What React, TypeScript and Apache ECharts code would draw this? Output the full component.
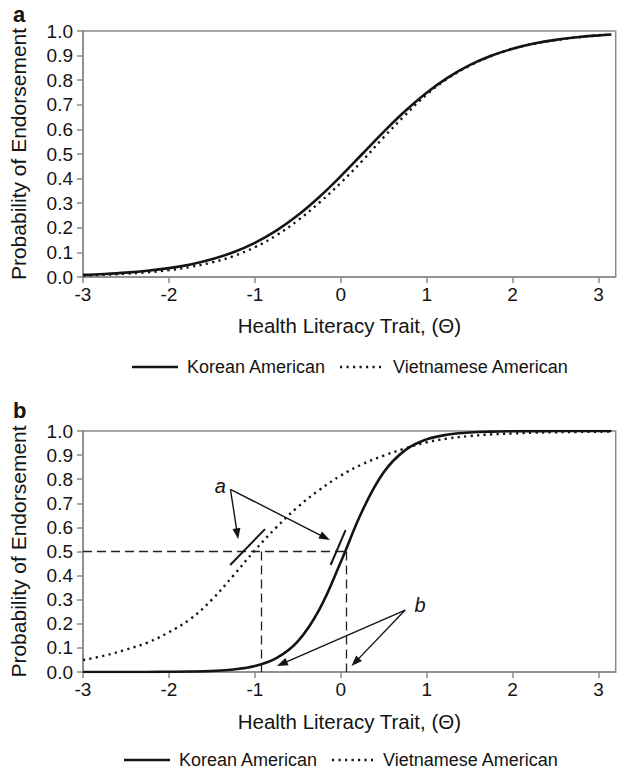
import React, { useEffect, useRef } from "react";
import * as echarts from "echarts";

const FONT = '"Liberation Sans", Arial, Helvetica, sans-serif';
const INK = "#141414";
const AXIS = "#8a8a8a";

// Theta grid (Health Literacy Trait)
const theta = [-3, -2.75, -2.5, -2.25, -2, -1.75, -1.5, -1.25, -1, -0.75, -0.5, -0.25, 0, 0.25, 0.5, 0.75, 1, 1.25, 1.5, 1.75, 2, 2.25, 2.5, 2.75, 3, 3.15];

// Panel a
const koreanA = [0.0086, 0.0124, 0.0177, 0.0253, 0.0361, 0.0512, 0.0721, 0.1007, 0.1389, 0.1885, 0.2507, 0.3252, 0.4098, 0.5, 0.5902, 0.6748, 0.7493, 0.8115, 0.8611, 0.8993, 0.9279, 0.9488, 0.9639, 0.9747, 0.9823, 0.9857];
const vietnameseA = [0.006, 0.009, 0.013, 0.019, 0.028, 0.041, 0.059, 0.085, 0.121, 0.169, 0.23, 0.302, 0.383, 0.472, 0.568, 0.658, 0.742, 0.808, 0.859, 0.898, 0.927, 0.948, 0.963, 0.974, 0.982, 0.986];

// Panel b
const koreanB = [0.0, 0.0001, 0.0001, 0.0003, 0.0008, 0.0018, 0.0044, 0.0105, 0.0247, 0.0573, 0.1273, 0.2592, 0.4564, 0.668, 0.8285, 0.9206, 0.9653, 0.9852, 0.9938, 0.9974, 0.9989, 0.9995, 0.9998, 0.9999, 1.0, 1.0];
const vietnameseB = [0.05, 0.068, 0.093, 0.122, 0.165, 0.22, 0.3, 0.4, 0.505, 0.6, 0.685, 0.755, 0.815, 0.862, 0.898, 0.928, 0.953, 0.969, 0.979, 0.986, 0.99, 0.993, 0.995, 0.996, 0.997, 0.998];

const xTicks = [-3, -2, -1, 0, 1, 2, 3];
const seriesNames = ["Korean American", "Vietnamese American"];
const xTitle = "Health Literacy Trait, (\u0398)";
const yTitle = "Probability of Endorsement";

// Annotation positions (data coordinates, panel b)
const halfLevel = 0.5;
const locVietnamese = -0.93;
const locKorean = 0.06;
const tangentLeft = [[-1.287, 0.444], [-0.882, 0.593]];
const tangentRight = [[-0.118, 0.444], [0.056, 0.589]];
const labelA = [-1.403, 0.772];
const originA = [-1.284, 0.758];
const targetsA = [[-1.204, 0.573], [-0.183, 0.558]];
const labelB = [0.924, 0.278];
const originB = [0.75, 0.257];
const targetsB = [[-0.685, 0.034], [0.169, 0.041]];

const zip = (xs: number[], ys: number[]) => xs.map((x, i) => [x, ys[i]]);

function makeX(gridIndex: number, nameGap: number, margin: number) {
  return {
    type: "value",
    gridIndex,
    min: -3,
    max: 3.2,
    interval: 1,
    axisLine: { show: true, onZero: false, lineStyle: { color: AXIS, width: 1.5 } },
    axisTick: { show: true, length: 6, customValues: xTicks, lineStyle: { color: AXIS, width: 1.5 } },
    axisLabel: { customValues: xTicks, fontSize: 19, color: INK, margin, fontFamily: FONT, formatter: (v: number) => String(v) },
    splitLine: { show: false },
    name: xTitle,
    nameLocation: "middle",
    nameGap,
    nameTextStyle: { fontSize: 20.5, color: INK, fontFamily: FONT },
  };
}

function makeY(gridIndex: number) {
  return {
    type: "value",
    gridIndex,
    min: 0,
    max: 1,
    interval: 0.1,
    axisLine: { show: true, onZero: false, lineStyle: { color: AXIS, width: 1.5 } },
    axisTick: { show: true, length: 6, lineStyle: { color: AXIS, width: 1.5 } },
    axisLabel: { fontSize: 19, color: INK, margin: 10, fontFamily: FONT, formatter: (v: number) => v.toFixed(1) },
    splitLine: { show: false },
    name: yTitle,
    nameLocation: "middle",
    nameGap: 54,
    nameTextStyle: { fontSize: 21, color: INK, fontFamily: FONT },
  };
}

const solidStyle = { color: INK, width: 2.6, type: "solid" };
const dotStyle = { color: INK, width: 2.4, type: [2.2, 4.3] };

function legendGraphics(y: number, x0: number, textGap: number) {
  return [
    { type: "line", shape: { x1: x0, y1: y, x2: x0 + 46, y2: y }, style: { stroke: INK, lineWidth: 2.6 } },
    { type: "text", x: x0 + 55, y, style: { text: seriesNames[0], font: `18px ${FONT}`, fill: INK, textVerticalAlign: "middle" } },
    { type: "line", shape: { x1: x0 + 208, y1: y, x2: x0 + 249, y2: y }, style: { stroke: INK, lineWidth: 2.4, lineDash: [2.2, 4.3] } },
    { type: "text", x: x0 + 249 + textGap, y, style: { text: seriesNames[1], font: `18px ${FONT}`, fill: INK, textVerticalAlign: "middle" } },
  ];
}

export default function App() {
  const ref = useRef<HTMLDivElement>(null);
  useEffect(() => {
    if (!ref.current) return;
    const chart = echarts.init(ref.current, null, { renderer: "svg" });
    const arrowEnd = (p: number[]) => ({ coord: p, symbol: "triangle", symbolSize: [8, 11] });
    const plain = (p: number[]) => ({ coord: p, symbol: "none" });
    const curve = { type: "line", symbol: "none", smooth: 0.4, silent: true };
    chart.setOption({
      animation: false,
      backgroundColor: "#ffffff",
      textStyle: { fontFamily: FONT },
      grid: [
        { left: 80, top: 31, width: 535.7, height: 246, show: true, borderColor: AXIS, borderWidth: 1.5 },
        { left: 80, top: 431, width: 535.7, height: 241, show: true, borderColor: AXIS, borderWidth: 1.5 },
      ],
      xAxis: [makeX(0, 38, 8), makeX(1, 39, 8)],
      yAxis: [makeY(0), makeY(1)],
      series: [
        { ...curve, name: seriesNames[0], xAxisIndex: 0, yAxisIndex: 0, data: zip(theta, koreanA), lineStyle: solidStyle },
        { ...curve, name: seriesNames[1], xAxisIndex: 0, yAxisIndex: 0, data: zip(theta, vietnameseA), lineStyle: dotStyle },
        { ...curve, name: seriesNames[1], xAxisIndex: 1, yAxisIndex: 1, data: zip(theta, vietnameseB), lineStyle: dotStyle },
        {
          ...curve, name: seriesNames[0], xAxisIndex: 1, yAxisIndex: 1, data: zip(theta, koreanB), lineStyle: solidStyle,
          markLine: {
            silent: true,
            symbol: ["none", "none"],
            label: { show: false },
            emphasis: { disabled: true },
            lineStyle: { color: "#222", width: 1.3, type: [9, 5] },
            data: [
              [plain([-3, halfLevel]), plain([locKorean, halfLevel])],
              [plain([locVietnamese, halfLevel]), plain([locVietnamese, 0])],
              [plain([locKorean, halfLevel]), plain([locKorean, 0])],
              [{ ...plain(tangentLeft[0]), lineStyle: { color: INK, width: 2, type: "solid" } }, plain(tangentLeft[1])],
              [{ ...plain(tangentRight[0]), lineStyle: { color: INK, width: 2, type: "solid" } }, plain(tangentRight[1])],
              ...targetsA.map((t) => [{ ...plain(originA), lineStyle: { color: INK, width: 1.4, type: "solid" } }, arrowEnd(t)]),
              ...targetsB.map((t) => [{ ...plain(originB), lineStyle: { color: INK, width: 1.4, type: "solid" } }, arrowEnd(t)]),
            ],
          },
          markPoint: {
            silent: true,
            symbol: "circle",
            symbolSize: 1,
            itemStyle: { color: "rgba(0,0,0,0)" },
            label: { show: true, position: "inside", color: INK, fontSize: 20, fontStyle: "italic", fontFamily: FONT },
            data: [
              { coord: labelA, label: { formatter: "a" } },
              { coord: labelB, label: { formatter: "b" } },
            ],
          },
        },
      ],
      graphic: [
        { type: "text", x: 13, y: 14.5, style: { text: "a", font: `bold 22px ${FONT}`, fill: INK, textVerticalAlign: "middle" } },
        { type: "text", x: 13, y: 410.5, style: { text: "b", font: `bold 22px ${FONT}`, fill: INK, textVerticalAlign: "middle" } },
        ...legendGraphics(367, 132, 12),
        ...legendGraphics(760, 124, 10),
      ],
    });
    return () => chart.dispose();
  }, []);
  return <div ref={ref} style={{ position: "fixed", left: 0, top: 0, width: 624, height: 774, background: "#fff" }} />;
}
